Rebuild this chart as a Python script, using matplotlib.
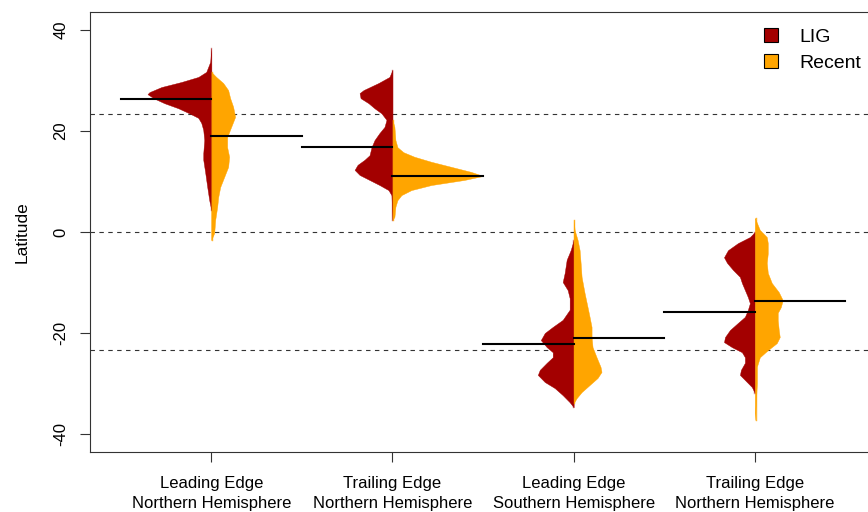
'''
Split bean plot of latitude for LIG vs Recent range edges
'''
import matplotlib
matplotlib.use('Agg')
import matplotlib.pyplot as plt
from matplotlib.patches import Patch

plt.rcParams['font.family'] = ['Liberation Sans', 'DejaVu Sans']

# Group labels
groups = ['Leading Edge\nNorthern Hemisphere', 'Trailing Edge\nNorthern Hemisphere',
          'Leading Edge\nSouthern Hemisphere', 'Trailing Edge\nNorthern Hemisphere']

# Density profiles (latitude, relative density)
lig_lat = [
    [36.4, 33.7, 31.7, 30.7, 29.7, 28.7, 27.7, 27.3, 26.5, 25.5, 24.5, 23.5, 22.6, 21.6,
     20.2, 18.2, 15.6, 14.3, 11.7, 8.9, 6.3, 4.4],
    [32.1, 30.7, 29.5, 28.1, 27.5, 26.5, 25.5, 24.5, 23.5, 22.2, 20.8, 19.6, 18.2, 16.8,
     15.2, 14.3, 13.3, 12.3, 11.3, 10.3, 9.3, 8.3, 7.3, 2.4],
    [-1.6, -3.6, -5.5, -8.1, -9.9, -11.5, -13.1, -15.4, -17.4, -18.8, -20.0, -21.4, -22.8,
     -23.8, -24.8, -25.9, -27.3, -28.3, -29.7, -30.9, -32.3, -33.7, -34.7],
    [0.0, -1.0, -2.2, -3.6, -5.0, -6.1, -7.5, -8.9, -10.1, -11.5, -12.9, -14.1, -15.4, -16.8,
     -18.0, -19.4, -20.8, -21.8, -22.8, -23.8, -24.8, -25.9, -27.3, -28.3, -29.3, -30.7, -31.9],
]
lig_den = [
    [0, 1, 5, 13, 30, 50, 62, 64, 58, 47, 33, 22, 13, 10, 8, 7, 8, 8, 6, 4, 2, 0],
    [0, 3, 14, 29, 33, 32, 24, 18, 11, 6, 8, 13, 18, 21, 23, 28, 35, 38, 33, 23, 13, 4, 1, 0],
    [0, 3, 7, 9, 11, 6, 4, 4, 11, 21, 29, 33, 27, 21, 21, 27, 34, 36, 29, 19, 11, 4, 0],
    [0, 5, 17, 27, 31, 28, 22, 15, 13, 10, 7, 5, 7, 10, 17, 25, 30, 31, 23, 13, 10, 10, 14,
     15, 10, 3, 0],
]
recent_lat = [
    [31.7, 30.7, 29.5, 28.1, 26.5, 24.8, 22.8, 20.8, 18.8, 16.8, 14.9, 12.9, 10.9, 8.9, 6.9,
     5.0, 2.4, -0.2, -1.6],
    [22.2, 20.8, 18.2, 16.8, 15.8, 14.9, 13.9, 12.9, 11.9, 11.1, 10.3, 9.3, 8.3, 7.3, 6.3,
     5.0, 3.0, 2.4],
    [2.4, 0.4, -1.6, -3.6, -6.1, -8.9, -12.1, -14.9, -16.8, -18.8, -20.8, -22.8, -24.8, -26.7,
     -27.7, -28.9, -30.3, -31.7, -32.9, -33.9],
    [2.8, 0.4, -1.0, -2.2, -4.2, -6.1, -8.1, -10.1, -11.9, -13.5, -14.9, -16.0, -17.4, -19.4,
     -20.8, -22.0, -23.4, -24.8, -26.7, -29.9, -33.9, -37.2],
]
recent_den = [
    [0, 5, 12, 17, 19, 22, 24, 20, 16, 16, 18, 17, 13, 9, 7, 6, 4, 3, 0],
    [0, 2, 3, 5, 11, 22, 39, 59, 79, 91, 72, 39, 19, 9, 5, 3, 2, 0],
    [0, 1, 4, 6, 7, 8, 11, 14, 16, 18, 18, 19, 23, 27, 28, 24, 16, 8, 3, 0],
    [0, 5, 12, 13, 13, 12, 13, 17, 24, 28, 26, 23, 23, 24, 25, 22, 13, 5, 2, 2, 1, 0],
]

# Medians
lig_median = [26.3, 16.9, -22.1, -15.8]
recent_median = [19.1, 11.0, -21.0, -13.6]

tropics = [23.44, 0, -23.44]

LIG_COL = '#a30000'
RECENT_COL = '#ffa500'

fig = plt.figure(figsize=(8.68, 5.12), dpi=100)
ax = fig.add_axes([90 / 868, 1 - 452 / 512, 785 / 868, 440 / 512])

# Scale densities so the widest half is half a unit wide
max_den = max(max(d) for d in lig_den + recent_den)
scale = 0.5 / max_den

for i in range(len(groups)):
    pos = i + 1
    lw = [d * scale for d in lig_den[i]]
    rw = [d * scale for d in recent_den[i]]
    ax.fill_betweenx(lig_lat[i], [pos - w for w in lw], pos, color=LIG_COL, lw=0.3, zorder=2)
    ax.fill_betweenx(recent_lat[i], pos, [pos + w for w in rw], color=RECENT_COL, lw=0.3, zorder=2)
    # thin centre lines through the full range
    ax.plot([pos - 0.004, pos - 0.004], [min(lig_lat[i]), max(lig_lat[i])],
            color=LIG_COL, alpha=0.45, lw=1, zorder=2)
    ax.plot([pos + 0.004, pos + 0.004], [min(recent_lat[i]), max(recent_lat[i])],
            color=RECENT_COL, alpha=0.8, lw=1, zorder=2)
    # median lines
    ax.plot([pos - 0.5, pos], [lig_median[i]] * 2, color='black', lw=1.5, zorder=3)
    ax.plot([pos, pos + 0.5], [recent_median[i]] * 2, color='black', lw=1.5, zorder=3)

for t in tropics:
    ax.axhline(t, color='#333333', lw=0.8, ls=(0, (4, 4)), zorder=1)

ax.set_xlim(0.331, 4.663)
ax.set_ylim(-43.56, 43.56)
ax.set_xticks(range(1, len(groups) + 1))
ax.set_xticklabels(groups, fontsize=12, linespacing=1.35)
ax.set_yticks([-40, -20, 0, 20, 40])
ax.set_yticklabels(['-40', '-20', '0', '20', '40'], fontsize=12, rotation=90, va='center')
ax.tick_params(axis='both', length=7, width=0.8, color='#333333')
ax.tick_params(axis='x', pad=10.5)
ax.tick_params(axis='y', pad=8.5)
ax.set_ylabel('Latitude', fontsize=12.5, labelpad=17)
for s in ax.spines.values():
    s.set_linewidth(0.8)
    s.set_color('#333333')

handles = [Patch(facecolor=LIG_COL, edgecolor='black', lw=0.8),
           Patch(facecolor=RECENT_COL, edgecolor='black', lw=0.8)]
fig.legend(handles, ['LIG', 'Recent'], loc='upper left', frameon=False, fontsize=14,
           bbox_to_anchor=(764 / 868, 1 - 28 / 512), bbox_transform=fig.transFigure,
           borderpad=0, borderaxespad=0, handlelength=0.7, handleheight=0.7,
           handletextpad=1.1, labelspacing=0.45)

fig.savefig('out.png', dpi=100)
